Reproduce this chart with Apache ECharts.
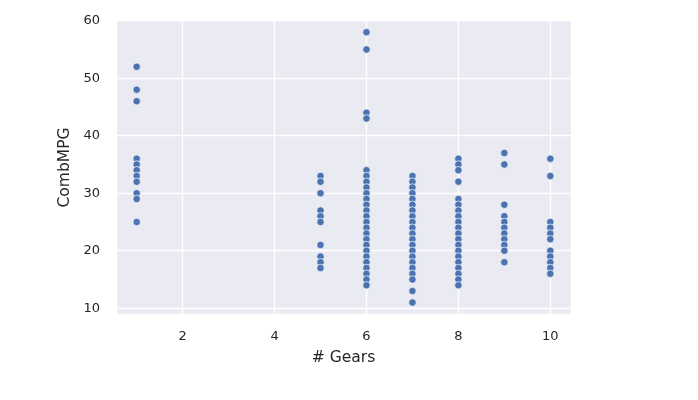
<!DOCTYPE html>
<html>
<head>
<meta charset="utf-8">
<script src="https://cdn.jsdelivr.net/npm/echarts@6/dist/echarts.min.js"></script>
<style>
html,body{margin:0;padding:0;background:#fff;}
#c{width:698px;height:400px;}
</style>
</head>
<body>
<div id="c"></div>
<script>
// CombMPG values per number of gears
const gears = [1, 5, 6, 7, 8, 9, 10];
const mpgGear1 = [52, 48, 46, 36, 35, 34, 33, 32, 30, 29, 25];
const mpgGear5 = [33, 32, 30, 27, 26, 25, 21, 19, 18, 17];
const mpgGear6 = [58, 55, 44, 43, 34, 33, 32, 31, 30, 29, 28, 27, 26, 25, 24, 23, 22, 21, 20, 19, 18, 17, 16, 15, 14];
const mpgGear7 = [33, 32, 31, 30, 29, 28, 27, 26, 25, 24, 23, 22, 21, 20, 19, 18, 17, 16, 15, 13, 11];
const mpgGear8 = [36, 35, 34, 32, 29, 28, 27, 26, 25, 24, 23, 22, 21, 20, 19, 18, 17, 16, 15, 14];
const mpgGear9 = [37, 35, 28, 26, 25, 24, 23, 22, 21, 20, 18];
const mpgGear10 = [36, 33, 25, 24, 23, 22, 20, 19, 18, 17, 16];
const xTicks = [2, 4, 6, 8, 10];
const yTicks = [10, 20, 30, 40, 50, 60];

const groups = [mpgGear1, mpgGear5, mpgGear6, mpgGear7, mpgGear8, mpgGear9, mpgGear10];
const points = [];
groups.forEach((arr, i) => arr.forEach(v => points.push([gears[i], v])));

const font = 'DejaVu Sans';
const chart = echarts.init(document.getElementById('c'), null, {renderer: 'canvas'});
chart.setOption({
  animation: false,
  backgroundColor: '#ffffff',
  grid: {left: 116, right: 127, top: 20.7, bottom: 85.7, show: true, backgroundColor: '#EAEAF2', borderWidth: 0},
  xAxis: {
    type: 'value', min: 0.55, max: 10.45,
    name: '# Gears', nameLocation: 'middle', nameGap: 36,
    nameTextStyle: {fontFamily: font, fontSize: 15.5, color: '#262626'},
    axisLine: {show: false}, axisTick: {show: false},
    axisLabel: {fontFamily: font, fontSize: 13, color: '#262626', margin: 16,
      formatter: v => xTicks.some(t => Math.abs(t - v) < 1e-9) ? String(v) : ''},
    splitLine: {show: true, lineStyle: {color: '#ffffff', width: 1.3}}
  },
  yAxis: {
    type: 'value', min: 8.95, max: 60,
    name: 'CombMPG', nameLocation: 'middle', nameGap: 39,
    nameTextStyle: {fontFamily: font, fontSize: 15.5, color: '#262626'},
    axisLine: {show: false}, axisTick: {show: false},
    axisLabel: {fontFamily: font, fontSize: 13, color: '#262626', margin: 16,
      formatter: v => yTicks.some(t => Math.abs(t - v) < 1e-9) ? String(v) : ''},
    splitLine: {show: true, lineStyle: {color: '#ffffff', width: 1.3}}
  },
  series: [{
    type: 'scatter',
    data: points,
    symbolSize: 7.5,
    itemStyle: {color: '#4C72B0', borderColor: '#ffffff', borderWidth: 0.7, opacity: 1}
  }]
});
</script>
</body>
</html>
